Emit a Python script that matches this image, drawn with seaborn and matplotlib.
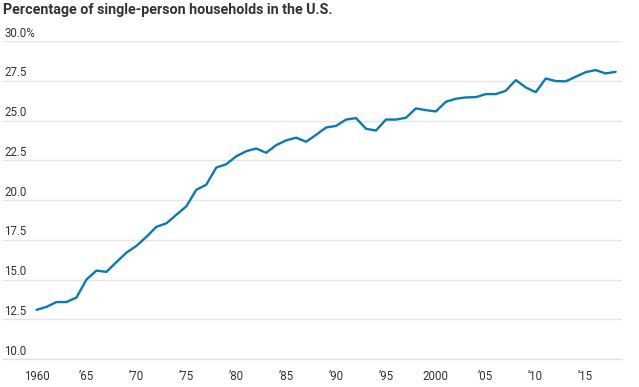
import matplotlib
matplotlib.use("Agg")
import matplotlib.pyplot as plt
import seaborn as sns
import pandas as pd
import numpy as np
from matplotlib.ticker import MultipleLocator, FixedLocator

years = list(range(1960, 2019))
share = [13.09, 13.28, 13.58, 13.58, 13.87, 15.00, 15.56, 15.48, 16.09, 16.69,
         17.11, 17.68, 18.31, 18.53, 19.07, 19.60, 20.64, 20.96, 22.04, 22.25,
         22.75, 23.07, 23.24, 22.97, 23.45, 23.75, 23.92, 23.66, 24.10, 24.56,
         24.66, 25.06, 25.15, 24.48, 24.37, 25.06, 25.06, 25.17, 25.76, 25.65,
         25.57, 26.18, 26.37, 26.45, 26.47, 26.66, 26.66, 26.87, 27.54, 27.08,
         26.78, 27.64, 27.48, 27.46, 27.75, 28.04, 28.17, 27.96, 28.06]
x_ticks = [1960, 1965, 1970, 1975, 1980, 1985, 1990, 1995, 2000, 2005, 2010, 2015]
x_labels = ["1960", "’65", "’70", "’75", "’80", "’85", "’90", "’95", "2000", "’05", "’10", "’15"]
y_ticks = [10.0, 12.5, 15.0, 17.5, 20.0, 22.5, 25.0, 27.5, 30.0]
y_labels = ["10.0", "12.5", "15.0", "17.5", "20.0", "22.5", "25.0", "27.5", "30.0%"]
title = "Percentage of single-person households in the U.S."

df = pd.DataFrame({"year": years, "share": share})

sns.set_theme(style="white")
plt.rcParams["font.family"] = ["Roboto", "DejaVu Sans"]

fig = plt.figure(figsize=(6.39, 3.87), dpi=100)
ax = fig.add_axes([3/639, 28/387, 619/639, 318/387])

sns.lineplot(data=df, x="year", y="share", ax=ax, color="#0a7ab2", linewidth=1.7)

ax.set_xlim(1956.64, 2018.64)
ax.set_ylim(10, 30)
for s in ["top", "right", "left"]:
    ax.spines[s].set_visible(False)
ax.spines["bottom"].set_color("#e2e2e2")
ax.spines["bottom"].set_linewidth(1.0)

ax.set_yticks(y_ticks)
ax.set_yticklabels([])
ax.tick_params(axis="y", length=0)
ax.grid(axis="y", color="#e6e6e6", linewidth=1.0)
ax.set_axisbelow(True)

ax.xaxis.set_major_locator(FixedLocator(x_ticks))
ax.xaxis.set_minor_locator(MultipleLocator(1))
ax.set_xticklabels(x_labels)
ax.tick_params(axis="x", which="major", length=5, width=1, color="#333333",
               labelsize=8.3, labelcolor="#333333", pad=3)
ax.tick_params(axis="x", which="minor", length=3, width=1, color="#333333")
ax.set_xlabel("")
ax.set_ylabel("")

for v, lab in zip(y_ticks, y_labels):
    ax.annotate(lab, xy=(0, v), xycoords=("axes fraction", "data"),
                xytext=(1, 1), textcoords="offset points",
                ha="left", va="bottom", fontsize=8.3, color="#333333")

fig.text(3/639, 1 - 3/387, title, ha="left", va="top", fontsize=10.3,
         fontweight="bold", color="#333333")

fig.savefig("out.png", dpi=100)
